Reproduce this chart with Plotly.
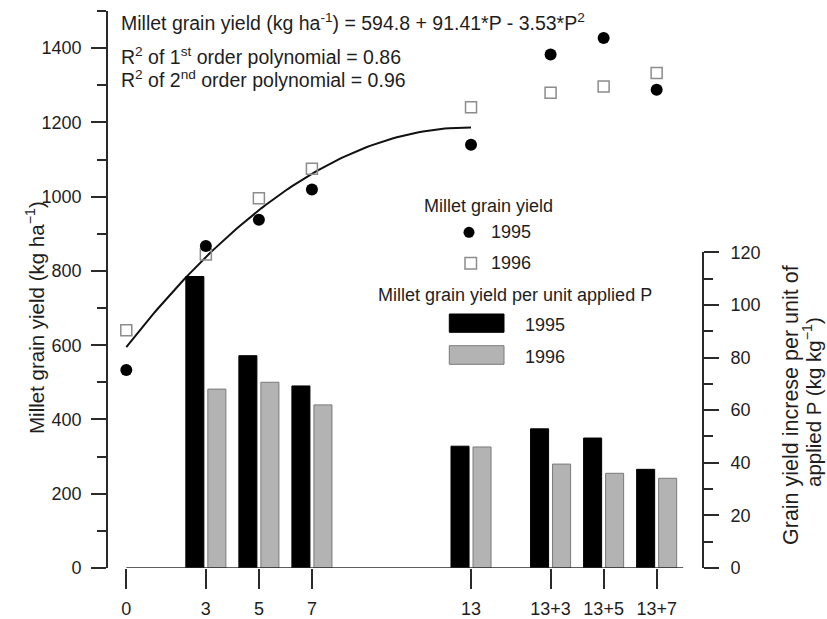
import numpy as np
import plotly.graph_objects as go

# ---------------- data ----------------
p_levels = [0, 3, 5, 7, 13, 16, 18, 20]
p_labels = ["0", "3", "5", "7", "13", "13+3", "13+5", "13+7"]

yield_1995 = [533, 867, 938, 1019, 1140, 1383, 1427, 1288]
yield_1996 = [640, 844, 996, 1075, 1241, 1280, 1297, 1333]

bar_levels = [3, 5, 7, 13, 16, 18, 20]
per_unit_1995 = [110.8, 80.7, 69.2, 46.3, 52.9, 49.4, 37.5]
per_unit_1996 = [68.0, 70.6, 62.0, 46.0, 39.5, 36.0, 34.1]

# fitted quadratic printed on the chart
fit_a, fit_b, fit_c = 594.8, 91.41, -3.53
fit_range = [0, 13]

# ---------------- layout helpers ----------------
W, H = 827, 619
L, R, T, B = 108, 702, 11, 568


def px(x):
    return (x - L) / (R - L)


def py(y):
    return (B - y) / (B - T)


FONT = "Liberation Sans, Arial, sans-serif"
TXT = "#1e1e1e"
AX = "#2a2a2a"

fig = go.Figure()

# bars (right axis)
fig.add_trace(go.Bar(
    x=bar_levels, y=per_unit_1995, yaxis="y2", width=0.68, offset=-0.755,
    marker=dict(color="#000000", line=dict(color="#000000", width=1)),
    name="1995 per unit P", showlegend=False))
fig.add_trace(go.Bar(
    x=bar_levels, y=per_unit_1996, yaxis="y2", width=0.68, offset=0.075,
    marker=dict(color="#b3b3b3", line=dict(color="#7a7a7a", width=1)),
    name="1996 per unit P", showlegend=False))

# fitted curve
xf = np.linspace(fit_range[0], fit_range[1], 80)
yf = fit_a + fit_b * xf + fit_c * xf ** 2
fig.add_trace(go.Scatter(x=xf, y=yf, mode="lines",
                         line=dict(color="#111111", width=2),
                         showlegend=False, hoverinfo="skip"))

# yield points
fig.add_trace(go.Scatter(x=p_levels, y=yield_1996, mode="markers",
                         marker=dict(symbol="square-open", size=11,
                                     color="#8c8c8c", line=dict(width=1.5)),
                         name="1996", showlegend=False))
fig.add_trace(go.Scatter(x=p_levels, y=yield_1995, mode="markers",
                         marker=dict(symbol="circle", size=12, color="#000000"),
                         name="1995", showlegend=False))

shapes = []
# x-axis baseline starting at P = 0
shapes.append(dict(type="line", xref="x", yref="y", x0=0, x1=21, y0=0, y1=0,
                   line=dict(color=AX, width=1.6)))

# manual legend symbols
shapes.append(dict(type="circle", xref="paper", yref="paper",
                   x0=px(463.5), x1=px(474.5), y0=py(237.8), y1=py(226.8),
                   fillcolor="#000000", line=dict(color="#000000", width=0)))
shapes.append(dict(type="rect", xref="paper", yref="paper",
                   x0=px(465), x1=px(476.5), y0=py(269), y1=py(257.5),
                   fillcolor="white", line=dict(color="#8c8c8c", width=1.5)))
shapes.append(dict(type="rect", xref="paper", yref="paper",
                   x0=px(449.3), x1=px(504), y0=py(332.3), y1=py(314),
                   fillcolor="#000000", line=dict(color="#000000", width=1)))
shapes.append(dict(type="rect", xref="paper", yref="paper",
                   x0=px(449.3), x1=px(504), y0=py(364.3), y1=py(345.7),
                   fillcolor="#b3b3b3", line=dict(color="#7a7a7a", width=1)))

ann = []


def text(x, y, s, size, xanchor="left", angle=0):
    ann.append(dict(x=px(x), y=py(y), xref="paper", yref="paper", text=s,
                    showarrow=False, xanchor=xanchor, yanchor="middle",
                    textangle=angle, font=dict(size=size, color=TXT, family=FONT)))


text(119, 21.7, "Millet grain yield (kg ha<sup>-1</sup>) = 594.8 + 91.41*P - 3.53*P<sup>2</sup>", 19.5)
text(119, 56.3, "R<sup>2</sup> of 1<sup>st</sup> order polynomial = 0.86", 19.5)
text(119, 79.3, "R<sup>2</sup> of 2<sup>nd</sup> order polynomial = 0.96", 19.5)

text(488, 206, "Millet grain yield", 18, "center")
text(489, 232.3, "1995", 18)
text(489, 263.3, "1996", 18)
text(515, 295, "Millet grain yield per unit applied P", 18, "center")
text(523.3, 325, "1995", 18)
text(523.3, 356.7, "1996", 18)

# axis titles
text(35, 318, "Millet grain yield (kg ha<sup>\u22121</sup>)", 20.5, "center", -90)
text(791, 405, "Grain yield increse per unit of", 21.5, "center", -90)
text(812, 402, "applied P (kg kg<sup>\u22121</sup>)", 20.5, "center", -90)

fig.update_layout(
    width=W, height=H,
    margin=dict(l=L, r=W - R, t=T, b=H - B, pad=0, autoexpand=False),
    paper_bgcolor="white", plot_bgcolor="rgba(0,0,0,0)",
    font=dict(family=FONT, size=18, color=TXT),
    showlegend=False,
    shapes=shapes, annotations=ann,
    xaxis=dict(range=[-0.69, 21.71], tickvals=p_levels, ticktext=p_labels,
               automargin=False,
               showline=False, showgrid=False, zeroline=False,
               ticks="outside", ticklen=20, tickwidth=1.6, tickcolor=AX,
               ticklabelstandoff=4, tickfont=dict(size=18)),
    yaxis=dict(range=[0, 1500], tick0=0, dtick=200, showline=True,
               automargin=False,
               linecolor=AX, linewidth=1.6, showgrid=False, zeroline=False,
               ticks="outside", ticklen=15, tickwidth=1.6, tickcolor=AX,
               minor=dict(dtick=100, tick0=0, ticks="outside", ticklen=9,
                          tickwidth=1.6, tickcolor=AX, showgrid=False),
               ticklabelstandoff=6, tickfont=dict(size=18)),
    yaxis2=dict(range=[0, 120], domain=[0, py(252.3)], anchor="x", side="right",
                automargin=False,
                tick0=0, dtick=20, showline=True, linecolor=AX, linewidth=1.6,
                showgrid=False, zeroline=False,
                ticks="outside", ticklen=15, tickwidth=1.6, tickcolor=AX,
                minor=dict(dtick=10, tick0=0, ticks="outside", ticklen=9,
                           tickwidth=1.6, tickcolor=AX, showgrid=False),
                ticklabelstandoff=8, tickfont=dict(size=18)),
)

fig.write_html("out.html",
               config={"displayModeBar": False},
               post_script="document.body.style.margin='0';"
                           "document.body.style.overflow='hidden';")
